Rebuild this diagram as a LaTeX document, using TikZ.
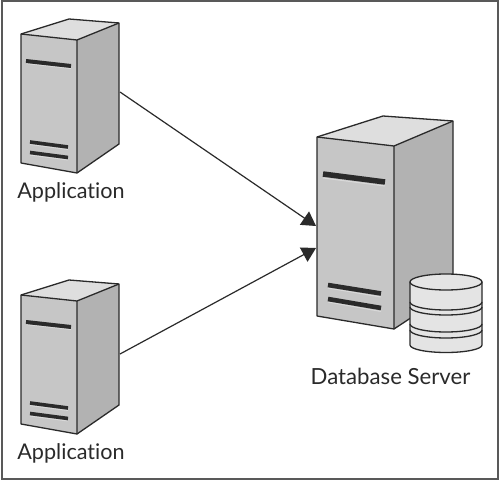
\documentclass[tikz,border=0pt]{standalone}
\usepackage{fontspec}
\setmainfont[Ligatures=NoCommon]{Lato}
\usetikzlibrary{arrows.meta}
\definecolor{ink}{HTML}{2A2A2A}
\definecolor{frontc}{HTML}{C6C6C6}
\definecolor{sidec}{HTML}{B2B2B2}
\definecolor{topc}{HTML}{DEDEDE}
\definecolor{dbc}{HTML}{E4E4E4}
\tikzset{
  edge/.style={draw=ink,line width=1.3pt,line join=round},
  bar/.style={draw=ink,line width=#1},
  barshade/.style={draw=white!70!gray,line width=1pt},
  conn/.style={draw=ink,line width=1.2pt,-{Triangle[length=14pt,width=16pt]},shorten >=0pt},
  lbl/.style={text=ink,font=\fontsize{21.6}{26}\selectfont,inner sep=0pt},
  dblbl/.style={text=ink,font=\fontsize{22.2}{26}\selectfont,inner sep=0pt},
}
\newcommand{\smallserver}[1]{%
  \begin{scope}[shift={(0,#1)}]
    \fill[frontc] (21,34)--(77,40)--(77,173)--(21,163)--cycle;
    \fill[sidec] (77,40)--(119,23)--(119,144)--(77,173)--cycle;
    \fill[topc] (21,34)--(69,19)--(119,23)--(77,40)--cycle;
    \draw[edge] (21,34)--(69,19)--(119,23)--(119,144)--(77,173)--(21,163)--cycle;
    \draw[edge] (21,34)--(77,40)--(119,23) (77,40)--(77,173);
    \draw[barshade] (26,63.5)--(71,68.5) (30,144.5)--(68,149.5) (30,155)--(68,160);
    \draw[bar=4pt] (26,61)--(71,66);
    \draw[bar=3.6pt] (30,142)--(68,147) (30,152.5)--(68,157.5);
  \end{scope}}
\begin{document}
\begin{tikzpicture}[x=1pt,y=-1pt]
\useasboundingbox (0,0) rectangle (500,481);
\fill[white] (0,0) rectangle (500,481);
\draw[draw=black!65,line width=2pt] (1.5,1.5) rectangle (498,479);

\smallserver{0}
\smallserver{261}

% database server
\fill[frontc] (317,137)--(394,146)--(394,329)--(317,316)--cycle;
\fill[sidec] (394,146)--(453,121)--(453,290)--(394,329)--cycle;
\fill[topc] (317,137)--(383,116)--(453,121)--(394,146)--cycle;
\draw[edge] (317,137)--(383,116)--(453,121)--(453,290)--(394,329)--(317,316)--cycle;
\draw[edge] (317,137)--(394,146)--(453,121) (394,146)--(394,329);
\draw[barshade] (323,178)--(385,186) (328,288)--(381,297) (328,302)--(381,311.5);
\draw[bar=5.5pt] (323,174)--(385,182);
\draw[bar=4.6pt] (328,285)--(381,293.5) (328,299)--(381,308);

% cylinder
\filldraw[fill=dbc,edge] (410,282) -- (410,345) arc[start angle=180,end angle=360,x radius=36pt,y radius=7.5pt] -- (482,282) -- cycle;
\filldraw[fill=dbc,edge] (446,282) ellipse[x radius=36pt,y radius=8pt];
\draw[edge] (410,302) arc[start angle=180,end angle=360,x radius=36pt,y radius=8pt];
\draw[edge] (410,307) arc[start angle=180,end angle=360,x radius=36pt,y radius=8pt];
\draw[edge] (410,324) arc[start angle=180,end angle=360,x radius=36pt,y radius=8pt];
\draw[edge] (410,330) arc[start angle=180,end angle=360,x radius=36pt,y radius=8pt];

% labels
\node[lbl] (lab1) at (71,192) {Application};
\node[lbl] (lab2) at (71,453) {Application};
\node[dblbl] (lab3) at (390.5,376.5) {Database Server};

% connectors
\coordinate (app1) at (120,92);
\coordinate (app2) at (120,354);
\coordinate (db1) at (316,226);
\coordinate (db2) at (316,248);
\draw[conn] (app1) -- (db1);
\draw[conn] (app2) -- (db2);
\end{tikzpicture}
\end{document}
